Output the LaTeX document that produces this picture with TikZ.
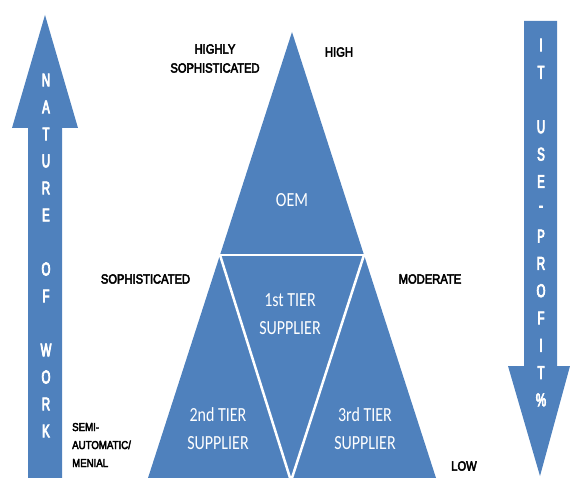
\documentclass[tikz,border=0pt]{standalone}
\usepackage{fontspec}
\newfontfamily\tierfont{Carlito}[FakeStretch=0.8]
\newfontfamily\labelfont{Liberation Sans}[FakeStretch=0.84, FakeBold=3.5]
\newfontfamily\arrowfont{Liberation Sans}[FakeStretch=0.62, FakeBold=4]
\definecolor{tierblue}{RGB}{79,129,189}
\tikzset{
  block/.style={fill=tierblue, draw=none},
  divider/.style={draw=white, line width=2.5pt},
  tiertext/.style={text=white, align=center, inner sep=0pt,
    font=\tierfont\fontsize{20}{28}\selectfont},
  levellabel/.style={text=black, inner sep=0pt,
    font=\labelfont\fontsize{13.3}{19}\selectfont},
  arrowletter/.style={text=white, inner sep=0pt,
    font=\arrowfont\fontsize{18.5}{20}\selectfont},
}
\begin{document}
\begin{tikzpicture}[x=1pt, y=-1pt]
\useasboundingbox (0,0) rectangle (570,478);

% corner points of the pyramid
\coordinate (apex) at (292,32);
\coordinate (midL) at (220,255);
\coordinate (midR) at (364,255);
\coordinate (baseL) at (148,478);
\coordinate (baseR) at (436,478);
\coordinate (vtip) at (291,481);

% pyramid body
\fill[block] (apex) -- (baseR) -- (baseL) -- cycle;

% white dividers between the tiers
\draw[divider] (208,255) -- (376,255);
\draw[divider] (midL) -- (vtip);
\draw[divider] (midR) -- (vtip);

% "nature of work" arrow pointing up
\fill[block] (45,15) -- (78,128) -- (62,128) -- (62,478) -- (28,478)
  -- (28,128) -- (12,128) -- cycle;
\foreach \l [count=\i] in {N,A,T,U,R,E,{},O,F,{},W,O,R,K}
  \node[arrowletter] (wl\i) at (46,{80+27*(\i-1)}) {\l};

% "IT use - profit" arrow pointing down
\fill[block] (524,21) -- (557,21) -- (557,366) -- (570,366) -- (540,476)
  -- (508,366) -- (524,366) -- cycle;
\foreach \l [count=\i] in {I,T,{},U,S,E,-,P,R,O,F,I,T,\%}
  \node[arrowletter] (pl\i) at (541,{45+27.3*(\i-1)}) {\l};

% tier names
\node[tiertext] (oem) at (292,200) {OEM};
\node[tiertext] (tier1) at (290,314) {1st TIER\\SUPPLIER};
\node[tiertext] (tier2) at (218,429) {2nd TIER\\SUPPLIER};
\node[tiertext] (tier3) at (365,429) {3rd TIER\\SUPPLIER};

% level labels
\node[levellabel, align=center] (hsoph) at (215,58.5) {HIGHLY\\SOPHISTICATED};
\node[levellabel] (high) at (339,52) {HIGH};
\node[levellabel] (soph) at (145.5,279) {SOPHISTICATED};
\node[levellabel] (moder) at (430,279) {MODERATE};
\node[levellabel, align=left, anchor=west, font=\labelfont\fontsize{11.5}{18}\selectfont]
  (semi) at (72,445) {SEMI-\\AUTOMATIC/\\MENIAL};
\node[levellabel] (low) at (464,466) {LOW};
\end{tikzpicture}
\end{document}
